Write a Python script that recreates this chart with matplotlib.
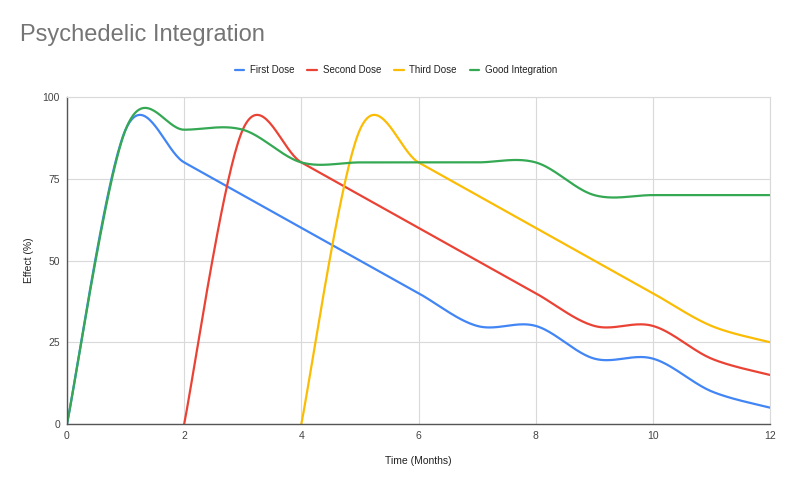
import matplotlib.pyplot as plt
import numpy as np

plt.rcParams['font.family'] = ['Liberation Sans', 'DejaVu Sans']

months = [0, 1, 2, 3, 4, 5, 6, 7, 8, 9, 10, 11, 12]
first_dose = [0, 90, 80, 70, 60, 50, 40, 30, 30, 20, 20, 10, 5]
second_x = [2, 3, 4, 5, 6, 7, 8, 9, 10, 11, 12]
second_dose = [0, 90, 80, 70, 60, 50, 40, 30, 30, 20, 15]
third_x = [4, 5, 6, 7, 8, 9, 10, 11, 12]
third_dose = [0, 90, 80, 70, 60, 50, 40, 30, 25]
good_integration = [0, 90, 90, 90, 80, 80, 80, 80, 80, 70, 70, 70, 70]


def smooth(xs, ys, n=40):
    # catmull-rom style bezier, like the sheets "smooth" option
    p = np.column_stack([xs, ys]).astype(float)
    m = len(p)
    t = np.zeros_like(p)
    for i in range(m):
        if i == 0:
            t[i] = (p[1] - p[0]) / 2
        elif i == m - 1:
            t[i] = (p[-1] - p[-2]) / 2
        else:
            t[i] = (p[i + 1] - p[i - 1]) / 2
    u = np.linspace(0, 1, n)[:, None]
    out = []
    for i in range(m - 1):
        a, d = p[i], p[i + 1]
        b, c = a + t[i] / 3, d - t[i + 1] / 3
        seg = ((1 - u) ** 3) * a + 3 * u * (1 - u) ** 2 * b + 3 * u ** 2 * (1 - u) * c + u ** 3 * d
        out.append(seg if i == 0 else seg[1:])
    out = np.vstack(out)
    return out[:, 0], out[:, 1]


fig = plt.figure(figsize=(7.92, 4.86), dpi=100)
ax = fig.add_axes([67 / 792, 1 - 424 / 486, (770 - 67) / 792, (424 - 97) / 486])

series = [
    ("First Dose", months, first_dose, "#4285F4"),
    ("Second Dose", second_x, second_dose, "#EA4335"),
    ("Third Dose", third_x, third_dose, "#FBBC04"),
    ("Good Integration", months, good_integration, "#34A853"),
]
for name, xs, ys, col in series:
    sx, sy = smooth(xs, ys)
    ax.plot(sx, sy, color=col, lw=1.6, label=name, solid_capstyle='round')

ax.set_xlim(0, 12)
ax.set_ylim(0, 100)
ax.set_xticks([0, 2, 4, 6, 8, 10, 12])
ax.set_yticks([0, 25, 50, 75, 100])
ax.grid(True, color="#d9d9d9", lw=0.8)
ax.set_axisbelow(True)
for s in ["top", "right"]:
    ax.spines[s].set_color("#d9d9d9")
    ax.spines[s].set_linewidth(0.8)
for s in ["left", "bottom"]:
    ax.spines[s].set_color("#555555")
    ax.spines[s].set_linewidth(1.0)
ax.tick_params(length=0, labelsize=7.5, labelcolor="#444444", pad=5)
ax.set_xlabel("Time (Months)", fontsize=7.5, color="#222222", labelpad=10.5)
ax.set_ylabel("Effect (%)", fontsize=7.5, color="#222222", labelpad=6)

fig.text(20 / 792, 1 - 35 / 486, "Psychedelic Integration", fontsize=17, color="#757575",
         ha="left", va="center")
fig.legend(loc="center", bbox_to_anchor=(396 / 792, 1 - 70 / 486), ncol=4, frameon=False,
           fontsize=7, handlelength=1.0, handletextpad=0.6, columnspacing=1.3,
           labelcolor="#222222")

fig.savefig("out.png", dpi=100)
